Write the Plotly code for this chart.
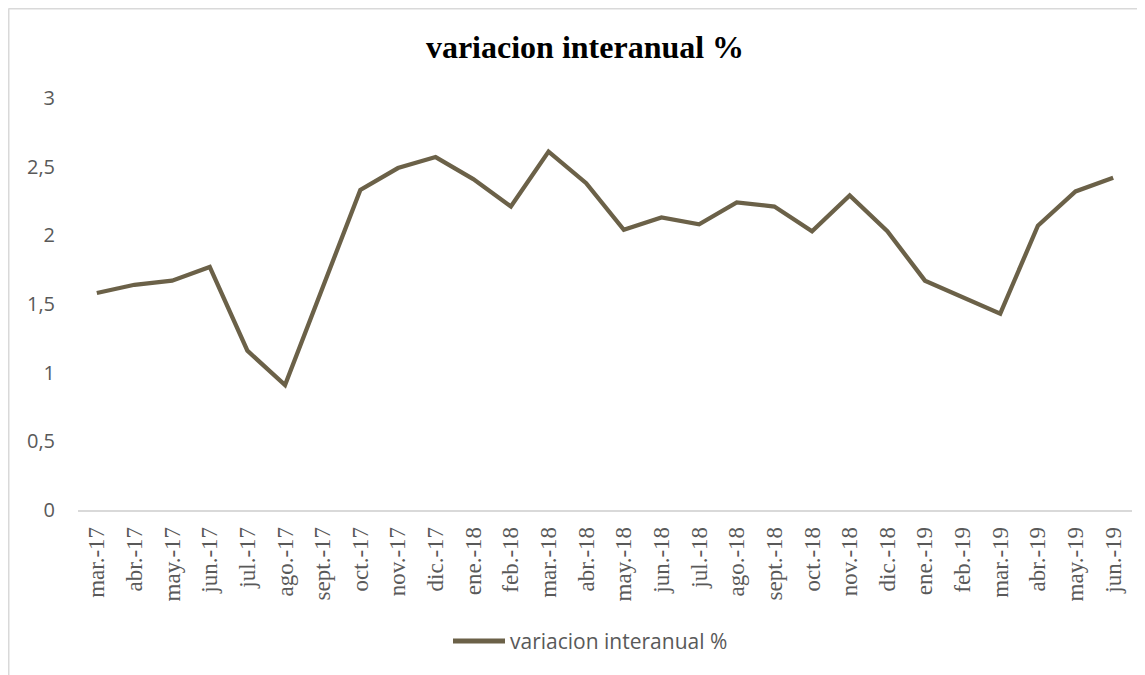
import plotly.graph_objects as go

# Month labels and year-on-year variation (%)
MESES = [
    "mar.-17", "abr.-17", "may.-17", "jun.-17", "jul.-17", "ago.-17", "sept.-17",
    "oct.-17", "nov.-17", "dic.-17", "ene.-18", "feb.-18", "mar.-18", "abr.-18",
    "may.-18", "jun.-18", "jul.-18", "ago.-18", "sept.-18", "oct.-18", "nov.-18",
    "dic.-18", "ene.-19", "feb.-19", "mar.-19", "abr.-19", "may.-19", "jun.-19",
]
VARIACION = [
    1.58, 1.64, 1.67, 1.77, 1.16, 0.91, 1.62,
    2.33, 2.49, 2.57, 2.41, 2.21, 2.61, 2.38,
    2.04, 2.13, 2.08, 2.24, 2.21, 2.03, 2.29,
    2.03, 1.67, 1.55, 1.43, 2.07, 2.32, 2.42,
]
Y_TICKS = [0, 0.5, 1, 1.5, 2, 2.5, 3]
Y_LABELS = ["0", "0,5", "1", "1,5", "2", "2,5", "3"]
SERIE = "variacion interanual %"

LINE_COLOR = "#6b6148"
TEXT_GRAY = "#595959"
BORDER = "#d9d9d9"
SERIF = "Liberation Serif, Times New Roman, serif"
SANS = "Open Sans, Liberation Sans, sans-serif"

# page body has an 8px margin, so the figure is a bit smaller than the window
W, H = 1137, 667
M_L, M_R, M_T, M_B = 70, 13, 90, 165
PW = W - M_L - M_R
PH = H - M_T - M_B


def px_x(x):
    """pixel x (figure) -> paper x"""
    return (x - M_L) / PW


def px_y(y):
    """pixel y (figure) -> paper y"""
    return (H - M_B - y) / PH


fig = go.Figure()
fig.add_trace(
    go.Scatter(
        x=MESES,
        y=VARIACION,
        mode="lines",
        name=SERIE,
        line=dict(color=LINE_COLOR, width=4.3),
        showlegend=False,
    )
)

fig.update_layout(
    width=W,
    height=H,
    margin=dict(l=M_L, r=M_R, t=M_T, b=M_B),
    plot_bgcolor="white",
    paper_bgcolor="white",
    title=dict(
        text="<b>" + SERIE + "</b>",
        font=dict(family=SERIF, size=32, color="black"),
        x=577 / W,
        xanchor="center",
        y=1 - 39 / H,
        yanchor="middle",
    ),
)

fig.update_xaxes(
    type="category",
    range=[-0.5, len(MESES) - 0.5],
    tickangle=-90,
    tickfont=dict(family=SERIF, size=23, color=TEXT_GRAY),
    showgrid=False,
    showline=True,
    linecolor=BORDER,
    linewidth=1.5,
    ticks="",
    ticklabelstandoff=6,
)

fig.update_yaxes(
    range=[0, 3],
    tickvals=Y_TICKS,
    ticktext=Y_LABELS,
    tickfont=dict(family=SANS, size=20, color=TEXT_GRAY),
    showgrid=False,
    zeroline=False,
    showline=False,
    ticks="",
    ticklabelstandoff=22,
)

# Legend drawn by hand (longer line sample than plotly's own)
fig.add_shape(type="line", xref="paper", yref="paper",
              x0=px_x(445), x1=px_x(497), y0=px_y(633), y1=px_y(633),
              line=dict(color=LINE_COLOR, width=5))
fig.add_annotation(xref="paper", yref="paper", x=px_x(500), y=px_y(633),
                   text=SERIE, showarrow=False, xanchor="left", yanchor="middle",
                   font=dict(family=SANS, size=21, color=TEXT_GRAY))

# Light border of the chart area (only top and left edges visible)
fig.add_shape(type="line", xref="paper", yref="paper",
              x0=px_x(0.5), x1=px_x(W + 5), y0=px_y(0.5), y1=px_y(0.5),
              line=dict(color=BORDER, width=2))
fig.add_shape(type="line", xref="paper", yref="paper",
              x0=px_x(0.5), x1=px_x(0.5), y0=px_y(0.5), y1=px_y(H + 5),
              line=dict(color=BORDER, width=2))

fig.write_html("out.html")
